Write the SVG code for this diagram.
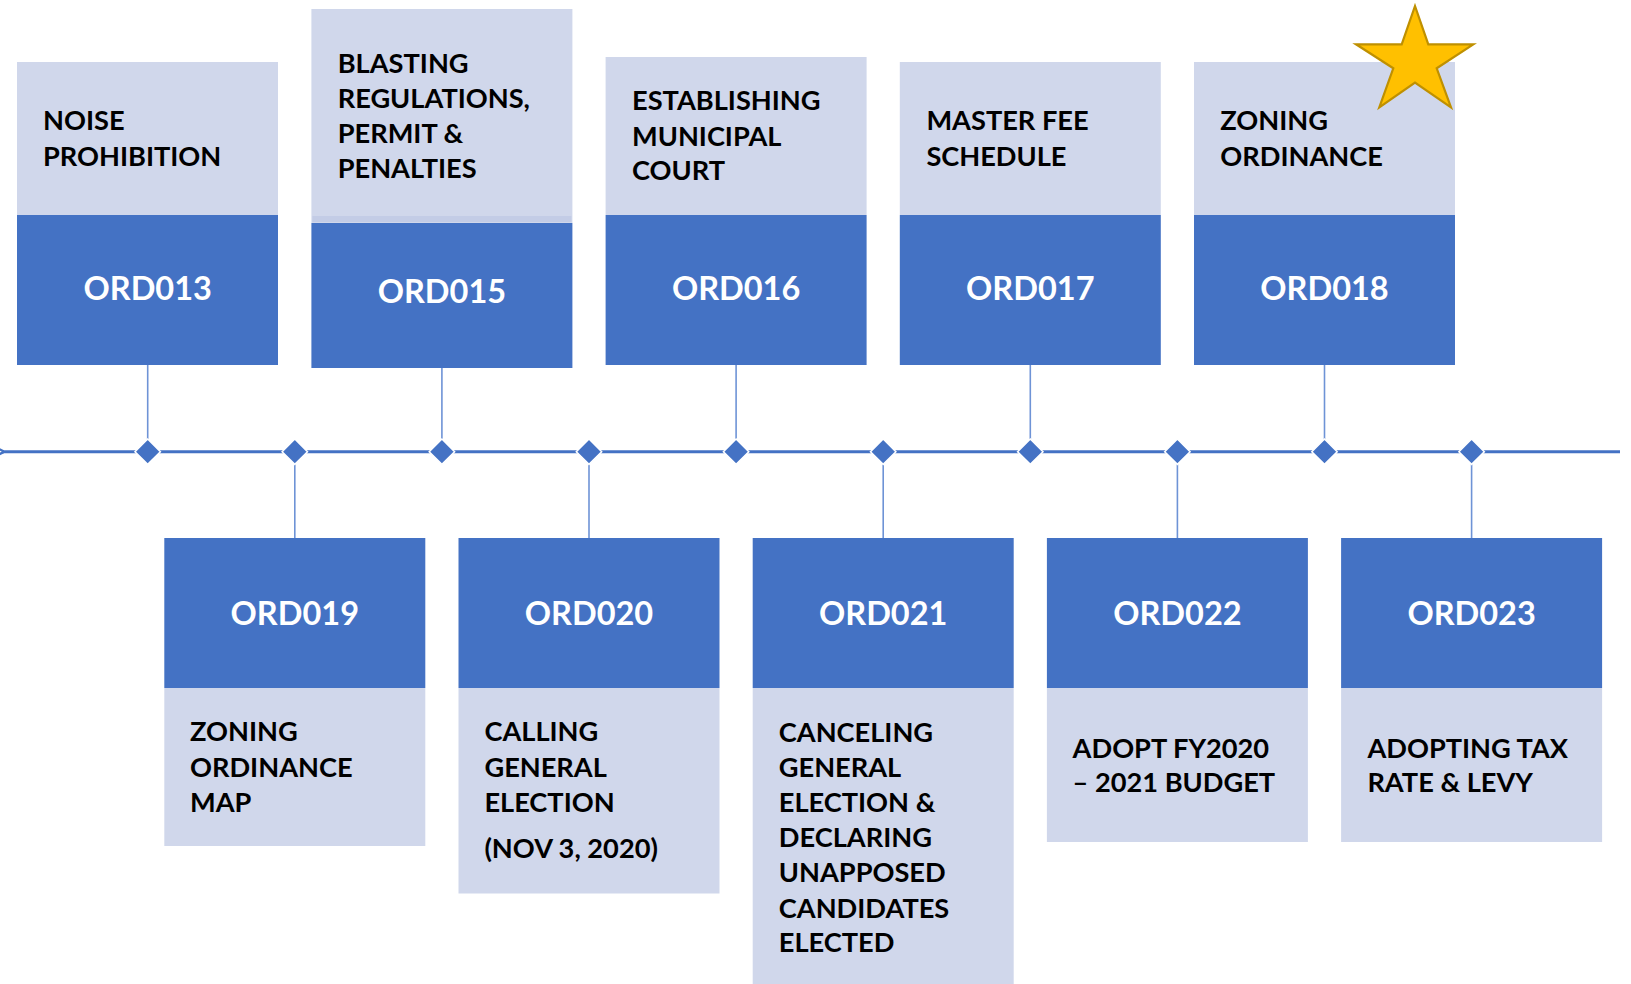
<svg xmlns="http://www.w3.org/2000/svg" width="1631" height="984" viewBox="0 0 1631 984">
<defs>
<style>
.lt{fill:#D0D7EB}
.dk{fill:#4472C4}
.t{font-family:Lato,"Open Sans","Liberation Sans",sans-serif;font-weight:bold;font-size:27.2px;fill:#000}
.o{font-family:Lato,"Open Sans","Liberation Sans",sans-serif;font-weight:bold;font-size:32.5px;fill:#fff;text-anchor:middle}
.c{stroke:#6E93D6;stroke-width:1.6;fill:none}
.dm{fill:#4472C4;stroke:#fff;stroke-width:1.5}
</style>
<marker id="arr" viewBox="0 0 10 10" refX="2" refY="5" markerWidth="4" markerHeight="4" orient="auto-start-reverse">
<path d="M10,0 L0,5 L10,10" fill="none" stroke="#4472C4" stroke-width="2"/>
</marker>
</defs>
<rect width="1631" height="984" fill="#fff"/>
<g id="connectors">
<line x1="2" y1="451.7" x2="1620" y2="451.7" stroke="#4472C4" stroke-width="3" marker-start="url(#arr)"/>
<line class="c" x1="147.7" y1="365" x2="147.7" y2="451"/>
<line class="c" x1="441.9" y1="368" x2="441.9" y2="451"/>
<line class="c" x1="736.1" y1="365" x2="736.1" y2="451"/>
<line class="c" x1="1030.3" y1="365" x2="1030.3" y2="451"/>
<line class="c" x1="1324.5" y1="365" x2="1324.5" y2="451"/>
<line class="c" x1="294.8" y1="452" x2="294.8" y2="538"/>
<line class="c" x1="589" y1="452" x2="589" y2="538"/>
<line class="c" x1="883.2" y1="452" x2="883.2" y2="538"/>
<line class="c" x1="1177.4" y1="452" x2="1177.4" y2="538"/>
<line class="c" x1="1471.6" y1="452" x2="1471.6" y2="538"/>
<g id="diamonds">
<path class="dm" d="M147.7,439 l12.7,12.7 l-12.7,12.7 l-12.7,-12.7z"/>
<path class="dm" d="M294.8,439 l12.7,12.7 l-12.7,12.7 l-12.7,-12.7z"/>
<path class="dm" d="M441.9,439 l12.7,12.7 l-12.7,12.7 l-12.7,-12.7z"/>
<path class="dm" d="M589,439 l12.7,12.7 l-12.7,12.7 l-12.7,-12.7z"/>
<path class="dm" d="M736.1,439 l12.7,12.7 l-12.7,12.7 l-12.7,-12.7z"/>
<path class="dm" d="M883.2,439 l12.7,12.7 l-12.7,12.7 l-12.7,-12.7z"/>
<path class="dm" d="M1030.3,439 l12.7,12.7 l-12.7,12.7 l-12.7,-12.7z"/>
<path class="dm" d="M1177.4,439 l12.7,12.7 l-12.7,12.7 l-12.7,-12.7z"/>
<path class="dm" d="M1324.5,439 l12.7,12.7 l-12.7,12.7 l-12.7,-12.7z"/>
<path class="dm" d="M1471.6,439 l12.7,12.7 l-12.7,12.7 l-12.7,-12.7z"/>
</g>
</g>
<g id="ORD013">
<rect class="lt" x="17" y="62" width="261" height="153"/>
<rect class="dk" x="17" y="215" width="261" height="150"/>
<text class="t" x="43" y="130">NOISE</text>
<text class="t" x="43" y="165.7">PROHIBITION</text>
<text class="o" x="147.7" y="300">ORD013</text>
</g>
<g id="ORD015">
<rect class="lt" x="311.4" y="9" width="261" height="214"/>
<rect x="312.4" y="216" width="259" height="6" fill="#C3CCE6"/>
<rect class="dk" x="311.4" y="223" width="261" height="145"/>
<text class="t" x="337.7" y="72.7">BLASTING</text>
<text class="t" x="337.7" y="108.3">REGULATIONS,</text>
<text class="t" x="337.7" y="143.3">PERMIT &amp;</text>
<text class="t" x="337.7" y="178.3">PENALTIES</text>
<text class="o" x="441.9" y="303">ORD015</text>
</g>
<g id="ORD016">
<rect class="lt" x="605.6" y="57" width="261" height="158"/>
<rect class="dk" x="605.6" y="215" width="261" height="150"/>
<text class="t" x="632" y="110">ESTABLISHING</text>
<text class="t" x="632" y="145.7">MUNICIPAL</text>
<text class="t" x="632" y="180">COURT</text>
<text class="o" x="736.1" y="300">ORD016</text>
</g>
<g id="ORD017">
<rect class="lt" x="899.8" y="62" width="261" height="153"/>
<rect class="dk" x="899.8" y="215" width="261" height="150"/>
<text class="t" x="926.4" y="130">MASTER FEE</text>
<text class="t" x="926.4" y="165.7">SCHEDULE</text>
<text class="o" x="1030.3" y="300">ORD017</text>
</g>
<g id="ORD018">
<rect class="lt" x="1194" y="62" width="261" height="153"/>
<rect class="dk" x="1194" y="215" width="261" height="150"/>
<text class="t" x="1220.3" y="130">ZONING</text>
<text class="t" x="1220.3" y="165.7">ORDINANCE</text>
<text class="o" x="1324.5" y="300">ORD018</text>
</g>
<g id="star">
<path d="M1415,6 L1428.3,44.3 L1473.3,44.3 L1436.7,68.3 L1451,107.3 L1415,82.7 L1379.3,107.3 L1393.3,68.3 L1356,44.3 L1401.7,44.3 Z" fill="#FFC000" stroke="#BF9000" stroke-width="2.2" stroke-linejoin="miter"/>
</g>
<g id="ORD019">
<rect class="dk" x="164.3" y="538" width="261" height="150"/>
<rect class="lt" x="164.3" y="688" width="261" height="158"/>
<text class="o" x="294.8" y="625">ORD019</text>
<text class="t" x="190" y="740.8">ZONING</text>
<text class="t" x="190" y="777">ORDINANCE</text>
<text class="t" x="190" y="811.5">MAP</text>
</g>
<g id="ORD020">
<rect class="dk" x="458.5" y="538" width="261" height="150"/>
<rect class="lt" x="458.5" y="688" width="261" height="205.5"/>
<text class="o" x="589" y="625">ORD020</text>
<text class="t" x="484.4" y="740.8">CALLING</text>
<text class="t" x="484.4" y="777">GENERAL</text>
<text class="t" x="484.4" y="811.5">ELECTION</text>
<text class="t" x="484.4" y="858">(NOV 3, 2020)</text>
</g>
<g id="ORD021">
<rect class="dk" x="752.7" y="538" width="261" height="150"/>
<rect class="lt" x="752.7" y="688" width="261" height="300"/>
<text class="o" x="883.2" y="625">ORD021</text>
<text class="t" x="778.8" y="741.9">CANCELING</text>
<text class="t" x="778.8" y="776.9">GENERAL</text>
<text class="t" x="778.8" y="811.5">ELECTION &amp;</text>
<text class="t" x="778.8" y="847">DECLARING</text>
<text class="t" x="778.8" y="882.3">UNAPPOSED</text>
<text class="t" x="778.8" y="917.7">CANDIDATES</text>
<text class="t" x="778.8" y="952.3">ELECTED</text>
</g>
<g id="ORD022">
<rect class="dk" x="1046.9" y="538" width="261" height="150"/>
<rect class="lt" x="1046.9" y="688" width="261" height="154"/>
<text class="o" x="1177.4" y="625">ORD022</text>
<text class="t" x="1072.6" y="757.5">ADOPT FY2020</text>
<text class="t" x="1072.6" y="791.8">– 2021 BUDGET</text>
</g>
<g id="ORD023">
<rect class="dk" x="1341.1" y="538" width="261" height="150"/>
<rect class="lt" x="1341.1" y="688" width="261" height="154"/>
<text class="o" x="1471.6" y="625">ORD023</text>
<text class="t" x="1367.4" y="757.5">ADOPTING TAX</text>
<text class="t" x="1367.4" y="791.8">RATE &amp; LEVY</text>
</g>
</svg>
